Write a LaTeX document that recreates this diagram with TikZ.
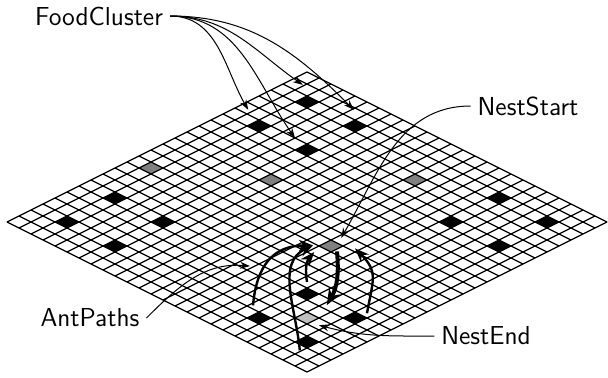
\documentclass[tikz,border=0pt]{standalone}
\usepackage{fontspec}
\usepackage{tikz}
\usetikzlibrary{arrows,arrows.meta}
\usetikzlibrary{calc}
\definecolor{nestgray}{gray}{0.5}
\definecolor{nestlight}{gray}{0.75}

\tikzset{
  lbl/.style={font=\fontsize{13}{15}\selectfont\sffamily},
  pointer/.style={->, line width=0.5pt},
  antpath/.style={->, >={Stealth[length=7pt,width=5.5pt]}, line width=1.2pt},
  mainpath/.style={->, >={Stealth[length=8pt,width=6.5pt]}, line width=2pt},
  cell/.style={line width=0.6pt}
}

\begin{document}
\begin{tikzpicture}[>={Stealth[length=5pt,width=3.5pt]}, x={(6pt,3pt)}, y={(6pt,-3pt)}]

	\useasboundingbox (-3.5pt,-77.5pt) rectangle (300.5pt,111pt);

	% food and nest cells
	\foreach \i/\j in {18/2,22/2,18/6,22/6, 2/2,6/2,2/6,6/6, 18/18,22/18,18/22,22/22, 2/18,6/18,2/22,6/22}
		\fill (\i,\j) -- ++(1,0) -- ++(0,1) -- ++(-1,0) -- cycle;
	\foreach \i/\j in {10/1,14/7,20/13,11/15}
		\fill[nestgray] (\i,\j) -- ++(1,0) -- ++(0,1) -- ++(-1,0) -- cycle;
	\fill[nestlight] (4,20) -- ++(1,0) -- ++(0,1) -- ++(-1,0) -- cycle;

	% grid
	\foreach \k in {0,...,25}{
		\draw[cell] (\k,0) -- (\k,25);
		\draw[cell] (0,\k) -- (25,\k);
	}

	\node[lbl] (food) at (46pt,103pt) {FoodCluster};
	\node[lbl] (nests) at (260.5pt,58pt) {NestStart};
	\node[lbl] (ants) at (41.5pt,-48pt) {AntPaths};
	\node[lbl] (nende) at (239.5pt,-57pt) {NestEnd};

	\coordinate (food1) at (19.4,0.7);
	\coordinate (food2) at (19,5);
	\coordinate (food3) at (23.75,0.9);
	\coordinate (food4) at (23.8,5.1);
	\coordinate (startin) at (12.6,15.25);
	\coordinate (pathin) at (6.45,13.8);
	\coordinate (endin) at (4.4,21.6);

	\coordinate (left) at (3.3,17.2);
	\coordinate (bottom) at (1.5,22.9);
	\coordinate (top) at (7.5,17.5);
	\coordinate (right) at (7.4,22.6);
	\coordinate (s1) at (10.8,14.7);
	\coordinate (s3) at (10.3,15.3);
	\coordinate (s4) at (11.3,16.2);
	\coordinate (s5) at (12.3,16.7);
	\coordinate (e4) at (6.4,20.25);

	\draw[pointer] (food.east) to[out=0,in=120] (food1);
	\draw[pointer] (food.east) to[out=0,in=125] (food2);
	\draw[pointer] (food.east) to[out=0,in=145] (food3);
	\draw[pointer] (food.east) to[out=0,in=135] (food4);
	\draw[pointer] (nests.west) to[out=180,in=60] (startin);
	\draw[pointer] (ants.east) to[out=45,in=175] (pathin);
	\draw[pointer] (nende.west) to[out=180,in=-15] (endin);

	% ant paths
	\draw[antpath] (left) to[out=85,in=180,looseness=1.2] (s1);
	\draw[antpath] (bottom) to[out=95,in=205] (s1);
	\draw[antpath] (top) to[out=100,in=230] (s3);
	\draw[mainpath] (s4) to[out=-85,in=60] (e4);
	\draw[antpath] (right) to[out=80,in=-45,looseness=1.3] (s5);

\end{tikzpicture}
\end{document}
